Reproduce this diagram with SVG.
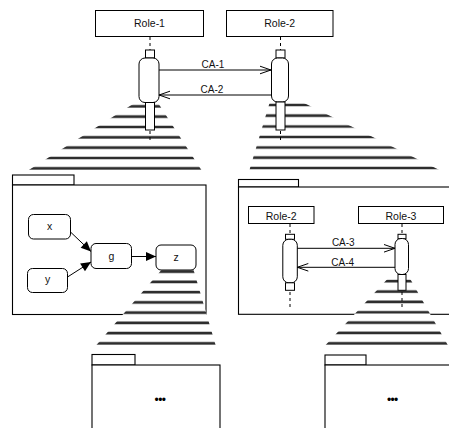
<svg xmlns="http://www.w3.org/2000/svg" width="449" height="428" viewBox="0 0 449 428">
<style>
  .box{fill:#fff;stroke:#000;stroke-width:1}
  .folder{fill:#fff;stroke:#000;stroke-width:1.1}
  .txt{font-family:"Liberation Sans",Arial,sans-serif;font-size:10.5px;fill:#111;text-anchor:middle}
  .lbl{font-family:"Liberation Sans",Arial,sans-serif;font-size:10px;fill:#111;text-anchor:middle}
  .dots{font-family:"Liberation Sans",Arial,sans-serif;font-size:12px;fill:#000;text-anchor:middle;letter-spacing:-0.6px}
  .dash{stroke:#000;stroke-width:1;stroke-dasharray:3,3;fill:none}
  .msg{stroke:#000;stroke-width:1;fill:none;marker-end:url(#open)}
  .flow{stroke:#000;stroke-width:1;fill:none;marker-end:url(#solid)}
  .halo{stroke:#b8b8b8;stroke-width:3.6}
  .stripe{stroke:#2e2e2e;stroke-width:2.2}
  .cone{fill:#fff;stroke:none}
</style>
<defs>
  <marker id="open" markerUnits="userSpaceOnUse" markerWidth="14" markerHeight="10" viewBox="-12 -5 14 10" refX="0" refY="0" orient="auto">
    <path d="M-11,-3.8 L0,0 L-11,3.8" fill="none" stroke="#000" stroke-width="1"/>
  </marker>
  <marker id="solid" markerUnits="userSpaceOnUse" markerWidth="12" markerHeight="10" viewBox="-11 -5 12 10" refX="0" refY="0" orient="auto">
    <path d="M-10,-4.5 L0,0 L-10,4.5 Z" fill="#000"/>
  </marker>
  <clipPath id="clipC1"><polygon points="145.8,96 153.5,96 203.9,174 22.6,174"/></clipPath>
  <clipPath id="clipC2"><polygon points="271.7,96 289.8,96 447.4,174 248.3,174"/></clipPath>
  <clipPath id="clipC3"><polygon points="168.4,262 191.2,262 217,350 92.2,350"/></clipPath>
  <clipPath id="clipC4"><polygon points="392.2,274 407.3,274 450.5,350 321,350"/></clipPath>
  <g id="s7a">
    <line class="halo" x1="0" y1="0" x2="449" y2="0"/><line class="stripe" x1="0" y1="0" x2="449" y2="0"/>
  </g>
</defs>

<!-- folders -->
<g id="folder-left">
  <rect class="folder" x="12.5" y="175" width="61.5" height="10"/>
  <rect class="folder" x="12.5" y="185" width="193.5" height="129.5"/>
</g>
<g id="folder-right">
  <rect class="folder" x="238.5" y="179.5" width="60" height="7.5"/>
  <rect class="folder" x="238.5" y="187" width="230" height="127.3"/>
</g>
<g id="folder-bottom-left">
  <rect class="folder" x="92" y="354.5" width="43" height="10.5"/>
  <rect class="folder" x="92" y="365" width="128" height="80"/>
  <text class="dots" x="160" y="404.3">•••</text>
</g>
<g id="folder-bottom-right">
  <rect class="folder" x="325" y="355" width="41" height="10"/>
  <rect class="folder" x="325" y="365" width="140" height="80"/>
  <text class="dots" x="392.3" y="403.6">•••</text>
</g>

<!-- left folder nodes -->
<g id="node-x"><rect class="box" x="28.5" y="214.5" width="42" height="24.5" rx="5"/><text class="txt" x="49.5" y="229.8">x</text></g>
<g id="node-y"><rect class="box" x="27.5" y="268.5" width="40" height="24" rx="5"/><text class="txt" x="47.5" y="283">y</text></g>
<g id="node-g"><rect class="box" x="91" y="243.5" width="40.5" height="25" rx="5"/><text class="txt" x="111.3" y="259.5">g</text></g>

<!-- zoom cones -->
<g id="cone-1" clip-path="url(#clipC1)">
  <rect class="cone" x="0" y="90" width="449" height="90"/>
  <use href="#s7a" y="106.3"/><use href="#s7a" y="116.6"/><use href="#s7a" y="127"/><use href="#s7a" y="137.3"/>
  <use href="#s7a" y="147.6"/><use href="#s7a" y="158"/><use href="#s7a" y="168.3"/>
</g>
<g id="cone-2" clip-path="url(#clipC2)">
  <rect class="cone" x="0" y="90" width="449" height="90"/>
  <use href="#s7a" y="105"/><use href="#s7a" y="115.6"/><use href="#s7a" y="126.5"/><use href="#s7a" y="137"/>
  <use href="#s7a" y="147.5"/><use href="#s7a" y="157.6"/><use href="#s7a" y="168"/>
</g>
<g id="cone-3" clip-path="url(#clipC3)">
  <rect class="cone" x="0" y="255" width="449" height="100"/>
  <use href="#s7a" y="271.7"/><use href="#s7a" y="281.9"/><use href="#s7a" y="292.2"/><use href="#s7a" y="302.4"/>
  <use href="#s7a" y="312.6"/><use href="#s7a" y="322.9"/><use href="#s7a" y="333.1"/><use href="#s7a" y="343.3"/>
</g>
<g id="cone-4" clip-path="url(#clipC4)">
  <rect class="cone" x="0" y="270" width="449" height="90"/>
  <use href="#s7a" y="281.2"/><use href="#s7a" y="291.55"/><use href="#s7a" y="301.9"/><use href="#s7a" y="312.25"/>
  <use href="#s7a" y="322.6"/><use href="#s7a" y="332.95"/><use href="#s7a" y="343.3"/>
</g>

<g id="node-z"><rect class="box" x="156" y="245" width="40" height="25" rx="5"/><text class="txt" x="176" y="261">z</text></g>

<!-- top sequence -->
<g id="role-1">
  <rect class="box" x="95.5" y="10.5" width="108" height="26"/>
  <text class="txt" x="149.5" y="27">Role-1</text>
  <line class="dash" x1="150" y1="37" x2="150" y2="50"/>
  <rect class="box" x="145.5" y="50" width="9" height="8"/>
  <rect class="box" x="139" y="58" width="20" height="44.5" rx="6"/>
  <rect class="box" x="145.5" y="102.5" width="9" height="27.5"/>
  <line class="dash" x1="150" y1="131" x2="150" y2="141"/>
</g>
<g id="role-2">
  <rect class="box" x="226.5" y="10.5" width="106.5" height="26"/>
  <text class="txt" x="279.7" y="27">Role-2</text>
  <line class="dash" x1="280.5" y1="37" x2="280.5" y2="50"/>
  <rect class="box" x="276" y="50" width="9" height="8"/>
  <rect class="box" x="271.5" y="58" width="17" height="44" rx="6"/>
  <rect class="box" x="276" y="102" width="9" height="28"/>
  <line class="dash" x1="280.5" y1="131" x2="280.5" y2="141"/>
</g>

<!-- inner sequence -->
<g id="role-2-inner">
  <rect class="box" x="248.5" y="206.5" width="65.5" height="17"/>
  <text class="txt" x="281.2" y="219.5">Role-2</text>
  <line class="dash" x1="290" y1="224" x2="290" y2="234"/>
  <rect class="box" x="285.5" y="234.3" width="9" height="5"/>
  <rect class="box" x="282.8" y="239.3" width="14.5" height="43.5" rx="6"/>
  <rect class="box" x="285.5" y="282.8" width="9" height="7.5"/>
  <line class="dash" x1="290" y1="292" x2="290" y2="307"/>
</g>
<g id="role-3">
  <rect class="box" x="358.5" y="206.5" width="85" height="17"/>
  <text class="txt" x="401" y="219.5">Role-3</text>
  <line class="dash" x1="402" y1="224" x2="402" y2="234"/>
  <rect class="box" x="398" y="234.3" width="8" height="4.5"/>
  <rect class="box" x="395" y="238.5" width="13.5" height="36" rx="6"/>
  <rect class="box" x="398" y="274.5" width="8" height="15.8"/>
  <line class="dash" x1="402" y1="292" x2="402" y2="307"/>
</g>

<!-- connectors -->
<g id="connectors">
  <line class="msg" x1="159" y1="70" x2="271" y2="70"/>
  <text class="lbl" x="213" y="67.5">CA-1</text>
  <line class="msg" x1="271.5" y1="95" x2="159" y2="95"/>
  <text class="lbl" x="212" y="92.5">CA-2</text>
  <line class="msg" x1="297.3" y1="248.3" x2="395" y2="248.3"/>
  <text class="lbl" x="343.3" y="246">CA-3</text>
  <line class="msg" x1="395" y1="267.3" x2="297.3" y2="267.3"/>
  <text class="lbl" x="342.7" y="265.5">CA-4</text>
  <line class="flow" x1="70.5" y1="232" x2="91" y2="251.5"/>
  <line class="flow" x1="67.5" y1="277" x2="91" y2="262"/>
  <line class="flow" x1="131.5" y1="256.5" x2="156" y2="256.5"/>
</g>
</svg>
